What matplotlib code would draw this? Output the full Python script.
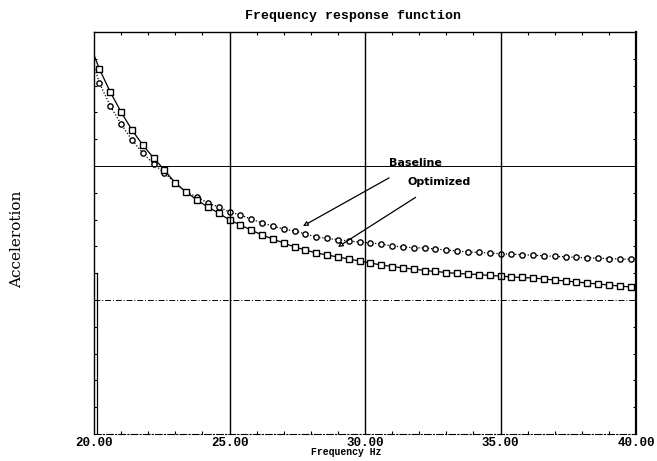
import numpy as np
import matplotlib
matplotlib.use("Agg")
import matplotlib.pyplot as plt
from matplotlib.ticker import MultipleLocator

# frequency samples (Hz), first point sits on the axis
freq = np.concatenate(([20.0], 20.2 + 0.4 * np.arange(50)))

baseline = [2.746,
            2.619, 2.448, 2.313, 2.194, 2.097, 2.015, 1.948, 1.873, 1.806, 1.769,
            1.724, 1.694, 1.657, 1.634, 1.604, 1.575, 1.552, 1.530, 1.515, 1.493,
            1.470, 1.460, 1.450, 1.440, 1.433, 1.425, 1.418, 1.403, 1.396, 1.390,
            1.388, 1.381, 1.373, 1.366, 1.358, 1.355, 1.350, 1.346, 1.342, 1.338,
            1.334, 1.330, 1.326, 1.322, 1.318, 1.315, 1.312, 1.309, 1.306, 1.303]

optimized = [2.828,
             2.724, 2.552, 2.403, 2.269, 2.157, 2.060, 1.970, 1.873, 1.806, 1.746,
             1.694, 1.649, 1.597, 1.560, 1.522, 1.485, 1.455, 1.425, 1.396, 1.373,
             1.351, 1.336, 1.321, 1.306, 1.291, 1.276, 1.261, 1.250, 1.239, 1.231,
             1.220, 1.213, 1.205, 1.198, 1.194, 1.190, 1.183, 1.179, 1.172, 1.168,
             1.164, 1.157, 1.149, 1.142, 1.134, 1.127, 1.119, 1.112, 1.104, 1.097]

xticks = [20, 25, 30, 35, 40]
xtick_labels = ["20.00", "25.00", "30.00", "35.00", "40.00"]

# annotation positions: (tip, text) in data units
base_tip, base_txt = (27.71, 1.552), (31.85, 2.02)
opt_tip, opt_txt = (29.0, 1.396), (32.75, 1.88)

mono = "Liberation Mono"

fig = plt.figure(figsize=(6.57, 4.61), dpi=100)
ax = fig.add_axes([94 / 657, 27 / 461, 542 / 657, 402 / 461])

ax.plot(freq, baseline, color="black", lw=0.9, ls=(0, (1, 1.5)),
        marker="o", ms=3.8, mfc="white", mec="black", mew=1.0, markevery=range(1, len(freq)))
ax.plot(freq, optimized, color="black", lw=0.9, ls="-",
        marker="s", ms=4.2, mfc="white", mec="black", mew=1.0, markevery=range(1, len(freq)))

ax.set_xlim(20, 40)
ax.set_ylim(0, 3)

# grid
for xv in [25, 30, 35]:
    ax.axvline(xv, color="black", lw=1.0)
ax.axhline(2, color="black", lw=0.7)
ax.axhline(1, color="black", lw=0.7, ls=(0, (6, 2, 1, 2)))
ax.plot([20.12, 20.12], [0, 1.2], color="black", lw=0.9)

for side in ["left", "top"]:
    ax.spines[side].set_linewidth(1.0)
ax.spines["right"].set_linewidth(1.6)
ax.spines["bottom"].set_linewidth(0.8)
ax.spines["bottom"].set_linestyle((0, (6, 2, 1, 2)))

ax.set_xticks(xticks)
ax.set_xticklabels(xtick_labels, fontfamily=mono, fontweight="bold", fontsize=9)
ax.xaxis.set_minor_locator(MultipleLocator(1))
ax.yaxis.set_major_locator(MultipleLocator(1))
ax.yaxis.set_minor_locator(MultipleLocator(0.2))
ax.set_yticklabels([])
ax.tick_params(axis="x", which="major", length=0, pad=2)
ax.tick_params(axis="both", which="minor", direction="in", length=2.5, width=0.8,
               top=True, right=True, bottom=True, left=True)
ax.tick_params(axis="y", which="major", length=0)

ax.set_xlabel("Frequency Hz", fontfamily=mono, fontweight="bold", fontsize=7,
              labelpad=-1, x=(346 - 94) / 542)
ax.set_title("Frequency response function", fontfamily=mono, fontweight="bold",
             fontsize=9.5, pad=9, x=(353 - 94) / 542)
fig.text(17 / 657, 1 - 239 / 461, "Accelerotion", rotation=90, ha="center", va="center",
         fontfamily="DejaVu Serif", fontsize=11)

arrow = dict(arrowstyle="-|>", color="black", lw=0.9, shrinkA=10, shrinkB=0,
             mutation_scale=7, fc="white")
ax.annotate("Baseline", xy=base_tip, xytext=base_txt, fontsize=8, fontweight="bold",
            ha="center", va="center", arrowprops=arrow)
ax.annotate("Optimized", xy=opt_tip, xytext=opt_txt, fontsize=8, fontweight="bold",
            ha="center", va="center", arrowprops=arrow)

fig.savefig("out.png", dpi=100)
